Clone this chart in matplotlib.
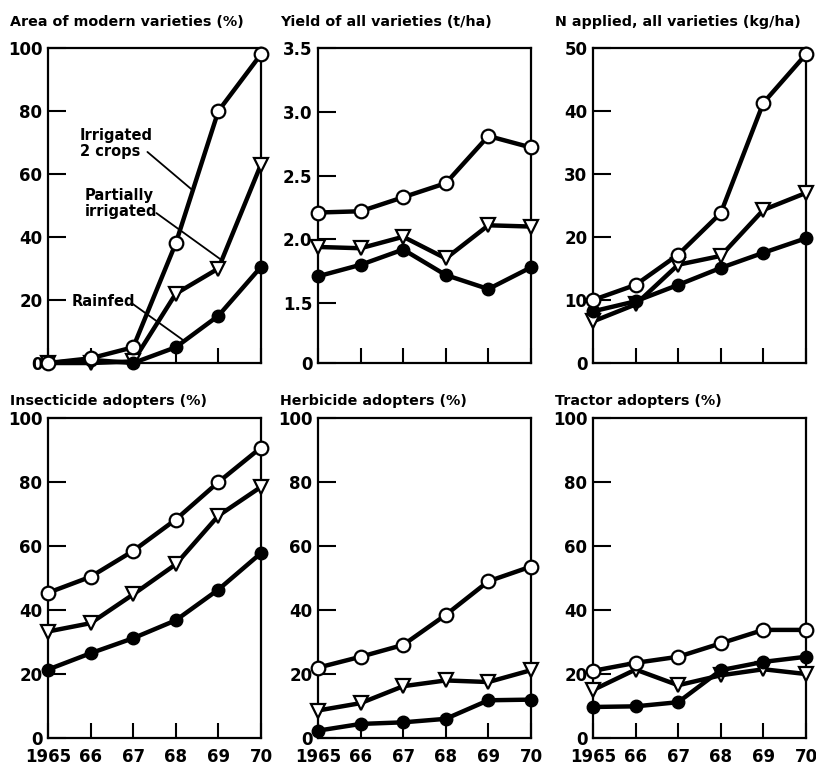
import matplotlib
matplotlib.use('Agg')
import matplotlib.pyplot as plt

years = [1965, 1966, 1967, 1968, 1969, 1970]
year_labels = ['1965', '66', '67', '68', '69', '70']

# --- series: irrigated 2 crops (open), partially irrigated (triangle), rainfed (filled) ---
area_irrigated = [0, 1.5, 5, 38, 80, 98]
area_partial = [0, 0, 0.5, 22, 30, 63]
area_rainfed = [0, 1, 0, 5, 15, 30.5]

yield_irrigated = [2.21, 2.22, 2.33, 2.44, 2.81, 2.72]
yield_partial = [1.94, 1.93, 2.02, 1.85, 2.11, 2.10]
yield_rainfed = [1.71, 1.80, 1.92, 1.72, 1.61, 1.78]

n_irrigated = [10, 12.4, 17.2, 23.8, 41.3, 49]
n_partial = [6.6, 9.3, 15.6, 17, 24.3, 27]
n_rainfed = [8.2, 9.8, 12.4, 15.1, 17.5, 19.8]

ins_irrigated = [45.4, 50.4, 58.5, 68.3, 80, 90.8]
ins_partial = [33.3, 35.9, 44.9, 54.3, 69.5, 78.5]
ins_rainfed = [21.4, 26.5, 31.2, 36.8, 46.4, 57.8]

her_irrigated = [22, 25.4, 29.1, 38.5, 49, 53.6]
her_partial = [8.6, 10.9, 16.2, 18, 17.5, 21.2]
her_rainfed = [2.3, 4.4, 4.9, 6, 11.8, 12]

tra_irrigated = [21, 23.5, 25.4, 29.6, 33.8, 33.8]
tra_partial = [15, 21.4, 16.5, 19.6, 21.5, 20]
tra_rainfed = [9.7, 9.9, 11.2, 21.2, 23.8, 25.4]

pct_ticks = [0, 20, 40, 60, 80, 100]
n_ticks = [0, 10, 20, 30, 40, 50]
# yield axis is broken below 1.5: the bottom tick stands for zero
yield_ticks = [1.03, 1.5, 2.0, 2.5, 3.0, 3.5]
yield_tick_labels = ['0', '1.5', '2.0', '2.5', '3.0', '3.5']

panels = [
    ("Area of modern varieties (%)", area_irrigated, area_partial, area_rainfed,
     (0, 100), pct_ticks, [str(t) for t in pct_ticks]),
    ("Yield of all varieties (t/ha)", yield_irrigated, yield_partial, yield_rainfed,
     (1.03, 3.5), yield_ticks, yield_tick_labels),
    ("N applied, all varieties (kg/ha)", n_irrigated, n_partial, n_rainfed,
     (0, 50), n_ticks, [str(t) for t in n_ticks]),
    ("Insecticide adopters (%)", ins_irrigated, ins_partial, ins_rainfed,
     (0, 100), pct_ticks, [str(t) for t in pct_ticks]),
    ("Herbicide adopters (%)", her_irrigated, her_partial, her_rainfed,
     (0, 100), pct_ticks, [str(t) for t in pct_ticks]),
    ("Tractor adopters (%)", tra_irrigated, tra_partial, tra_rainfed,
     (0, 100), pct_ticks, [str(t) for t in pct_ticks]),
]

fig = plt.figure(figsize=(8.16, 7.67), dpi=100)
plt.rcParams['font.family'] = 'DejaVu Sans'
plt.rcParams['font.weight'] = 'bold'

lefts = [0.0588, 0.3897, 0.7267]
width = 0.261
rows = [(0.5267, 0.4107), (0.0378, 0.417)]
title_x = [0.012, 0.343, 0.680]
title_y = [0.971, 0.477]

line_kw = dict(color='black', lw=3.2, clip_on=False)

axes = []
for i, (title, irr, part, rain, ylim, yt, ytl) in enumerate(panels):
    r, c = divmod(i, 3)
    ax = fig.add_axes([lefts[c], rows[r][0], width, rows[r][1]])
    axes.append(ax)

    ax.plot(years, part, marker='v', ms=10, mfc='white', mec='black', mew=1.6, zorder=3, **line_kw)
    ax.plot(years, rain, marker='o', ms=9, mfc='black', mec='black', zorder=4, **line_kw)
    ax.plot(years, irr, marker='o', ms=9.8, mfc='white', mec='black', mew=1.6, zorder=5, **line_kw)

    ax.set_xlim(1965, 1970)
    ax.set_ylim(*ylim)
    ax.set_xticks(years)
    ax.set_yticks(yt)
    ax.set_yticklabels(ytl)
    for s in ax.spines.values():
        s.set_linewidth(1.6)
    ax.tick_params(axis='y', direction='in', length=13, width=1.5, pad=4, labelsize=12)
    ax.tick_params(axis='x', direction='in', length=11, width=1.5, pad=7, labelsize=12)
    if r == 0:
        ax.set_xticklabels([])
    else:
        ax.set_xticklabels(year_labels)

    fig.text(title_x[c], title_y[r], title, ha='left', va='center', fontsize=10.3)

# labels for the three series in the first panel
ax = axes[0]
lab_kw = dict(fontsize=10.5, ha='left', va='center', linespacing=1.05, transform=ax.transAxes)
ax.text(0.150, 0.697, "Irrigated\n2 crops", **lab_kw)
ax.text(0.173, 0.506, "Partially\nirrigated", **lab_kw)
ax.text(0.112, 0.194, "Rainfed", **lab_kw)


def point_on(series, x):
    i = int(x) - 1965
    f = x - int(x)
    return (x, series[i] + f * (series[i + 1] - series[i]))


ptr = dict(arrowstyle='-', lw=1.3, color='black', shrinkA=0, shrinkB=0)
ax.annotate('', xy=point_on(area_irrigated, 1968.4), xycoords='data',
            xytext=(0.467, 0.670), textcoords='axes fraction', arrowprops=ptr)
ax.annotate('', xy=point_on(area_partial, 1969.08), xycoords='data',
            xytext=(0.509, 0.476), textcoords='axes fraction', arrowprops=ptr)
ax.annotate('', xy=point_on(area_rainfed, 1968.2), xycoords='data',
            xytext=(0.393, 0.190), textcoords='axes fraction', arrowprops=ptr)

fig.savefig('out.png', dpi=100)
